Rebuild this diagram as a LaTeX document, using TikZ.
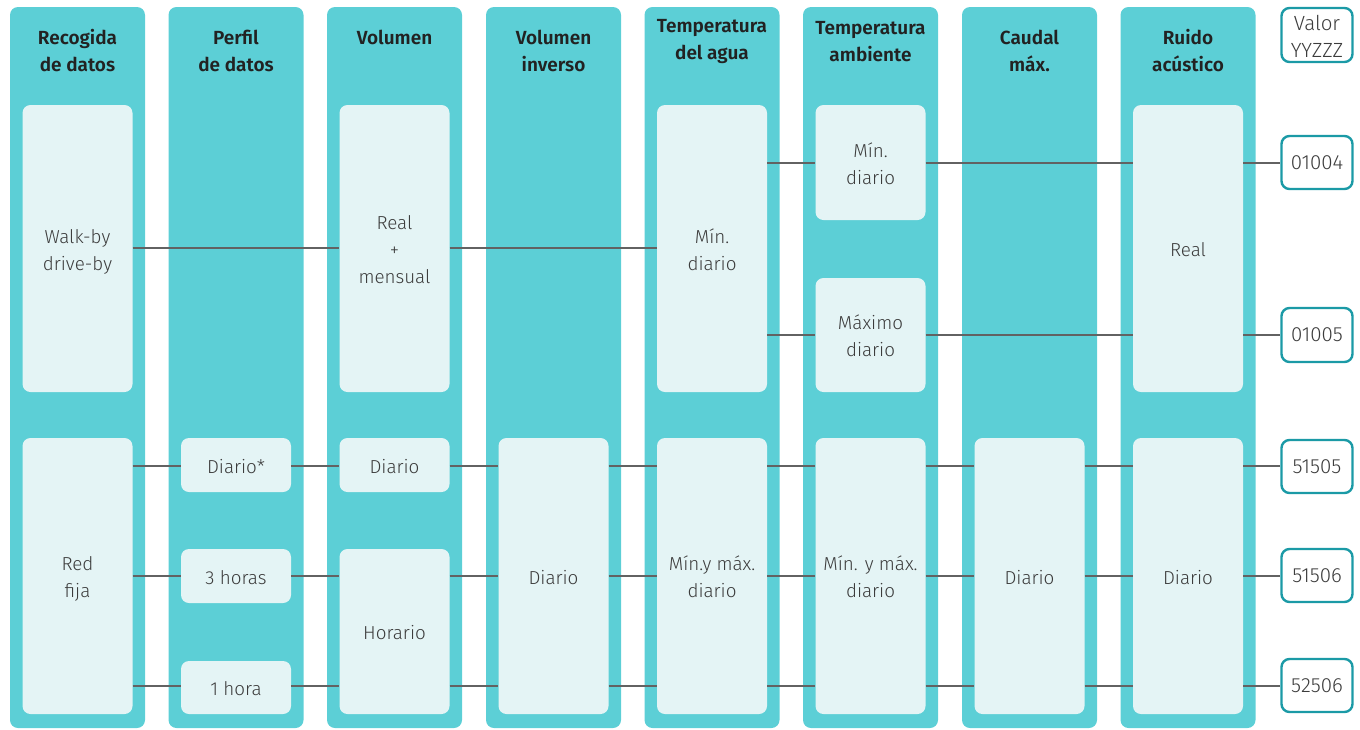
\documentclass[tikz,border=0pt]{standalone}
\usepackage{fontspec}
\setmainfont{Fira Sans}[UprightFont={* Light}, BoldFont={* SemiBold}]
\definecolor{tealc}{HTML}{5CCFD6}
\definecolor{pale}{HTML}{E4F4F5}
\definecolor{valb}{HTML}{1B9AA6}
\definecolor{linec}{HTML}{626262}
\definecolor{txtc}{HTML}{3C3C3C}
\definecolor{hdrc}{HTML}{222222}
\tikzset{
  colbg/.style={fill=tealc, draw=none, rounded corners=8pt, minimum width=135pt, minimum height=721pt, inner sep=0pt},
  hdr/.style={font=\bfseries\fontsize{19}{27}\selectfont, text=hdrc, align=center, inner sep=0pt},
  inbox/.style={fill=pale, draw=none, rounded corners=8pt, minimum width=110pt, inner sep=0pt, align=center, text=txtc, font=\fontsize{18.8}{27}\selectfont},
  oneline/.style={text height=16pt, text depth=0pt},
  twoline/.style={text height=43pt, text depth=0pt},
  threeline/.style={text height=69pt, text depth=0pt},
  valbox/.style={fill=white, draw=valb, line width=2.4pt, rounded corners=8pt, minimum width=71pt, inner sep=0pt, align=center, text=txtc, font=\fontsize{20.5}{27}\selectfont},
  conn/.style={draw=linec, line width=2pt}
}
\begin{document}
\begin{tikzpicture}[x=1pt,y=-1pt]
\useasboundingbox (0,0) rectangle (1360,729);
% columns
\foreach \cx [count=\i] in {77.5,236,394.5,553.5,712,870.5,1029.5,1188}{
  \node[colbg] (col\i) at (\cx,367.5) {};
}
% headers
\node[hdr] (h1) at (77.5,50.5) {Recogida\\de datos};
\node[hdr] (h2) at (236,50.5) {Perfil\\de datos};
\node[hdr] (h3) at (394.5,37) {Volumen};
\node[hdr] (h4) at (553.5,50.5) {Volumen\\inverso};
\node[hdr] (h5) at (712,41.5) {Temperatura\\del agua};
\node[hdr] (h6) at (870.5,41.5) {Temperatura\\ambiente};
\node[hdr] (h7) at (1029.5,50.5) {Caudal\\máx.};
\node[hdr] (h8) at (1188,50.5) {Ruido\\acústico};
% column 1
\node[inbox, twoline, minimum height=287pt] (c1a) at (77.5,248.5) {Walk-by\\drive-by};
\node[inbox, twoline, minimum height=276pt] (c1b) at (77.5,576) {Red\\fija};
% column 2
\node[inbox, oneline, minimum height=54pt] (c2a) at (236,465) {Diario*};
\node[inbox, oneline, minimum height=54pt] (c2b) at (236,576) {3 horas};
\node[inbox, oneline, minimum height=53pt] (c2c) at (236,687.5) {1 hora};
% column 3
\node[inbox, threeline, minimum height=287pt] (c3a) at (394.5,248.5) {Real\\+\\mensual};
\node[inbox, oneline, minimum height=54pt] (c3b) at (394.5,465) {Diario};
\node[inbox, oneline, minimum height=165pt] (c3c) at (394.5,631.5) {Horario};
% column 4
\node[inbox, oneline, minimum height=276pt] (c4a) at (553.5,576) {Diario};
% column 5
\node[inbox, twoline, minimum height=287pt] (c5a) at (712,248.5) {Mín.\\diario};
\node[inbox, twoline, minimum height=276pt] (c5b) at (712,576) {Mín.y máx.\\diario};
% column 6
\node[inbox, twoline, minimum height=115pt] (c6a) at (870.5,162.5) {Mín.\\diario};
\node[inbox, twoline, minimum height=114pt] (c6b) at (870.5,335) {Máximo\\diario};
\node[inbox, twoline, minimum height=276pt] (c6c) at (870.5,576) {Mín. y máx.\\diario};
% column 7
\node[inbox, oneline, minimum height=276pt] (c7a) at (1029.5,576) {Diario};
% column 8
\node[inbox, oneline, minimum height=287pt] (c8a) at (1188,248.5) {Real};
\node[inbox, oneline, minimum height=276pt] (c8b) at (1188,576) {Diario};
% value boxes
\node[valbox, text height=44pt, text depth=0pt, minimum height=54pt] (v0) at (1317,35) {Valor\\YYZZZ};
\node[valbox, minimum height=53pt] (v1) at (1317,162.5) {01004};
\node[valbox, minimum height=54pt] (v2) at (1317,335) {01005};
\node[valbox, minimum height=53pt] (v3) at (1317,466.5) {51505};
\node[valbox, minimum height=53pt] (v4) at (1317,575.5) {51506};
\node[valbox, minimum height=53pt] (v5) at (1317,685.5) {52506};
% coordinates of rows
\coordinate (rA) at (0,248);
\coordinate (rB) at (0,163);
\coordinate (rC) at (0,335);
\coordinate (rD) at (0,466);
\coordinate (rE) at (0,576);
\coordinate (rF) at (0,686);
% row A (walk-by)
\draw[conn] (rA -| c1a.east) -- (rA -| c3a.west);
\draw[conn] (rA -| c3a.east) -- (rA -| c5a.west);
% row B
\draw[conn] (rB -| c5a.east) -- (rB -| c6a.west);
\draw[conn] (rB -| c6a.east) -- (rB -| c8a.west);
\draw[conn] (rB -| c8a.east) -- (rB -| v1.west);
% row C
\draw[conn] (rC -| c5a.east) -- (rC -| c6b.west);
\draw[conn] (rC -| c6b.east) -- (rC -| c8a.west);
\draw[conn] (rC -| c8a.east) -- (rC -| v2.west);
% row D
\draw[conn] (rD -| c1b.east) -- (rD -| c2a.west);
\draw[conn] (rD -| c2a.east) -- (rD -| c3b.west);
\draw[conn] (rD -| c3b.east) -- (rD -| c4a.west);
\draw[conn] (rD -| c4a.east) -- (rD -| c5b.west);
\draw[conn] (rD -| c5b.east) -- (rD -| c6c.west);
\draw[conn] (rD -| c6c.east) -- (rD -| c7a.west);
\draw[conn] (rD -| c7a.east) -- (rD -| c8b.west);
\draw[conn] (rD -| c8b.east) -- (rD -| v3.west);
% row E
\draw[conn] (rE -| c1b.east) -- (rE -| c2b.west);
\draw[conn] (rE -| c2b.east) -- (rE -| c3c.west);
\draw[conn] (rE -| c3c.east) -- (rE -| c4a.west);
\draw[conn] (rE -| c4a.east) -- (rE -| c5b.west);
\draw[conn] (rE -| c5b.east) -- (rE -| c6c.west);
\draw[conn] (rE -| c6c.east) -- (rE -| c7a.west);
\draw[conn] (rE -| c7a.east) -- (rE -| c8b.west);
\draw[conn] (rE -| c8b.east) -- (rE -| v4.west);
% row F
\draw[conn] (rF -| c1b.east) -- (rF -| c2c.west);
\draw[conn] (rF -| c2c.east) -- (rF -| c3c.west);
\draw[conn] (rF -| c3c.east) -- (rF -| c4a.west);
\draw[conn] (rF -| c4a.east) -- (rF -| c5b.west);
\draw[conn] (rF -| c5b.east) -- (rF -| c6c.west);
\draw[conn] (rF -| c6c.east) -- (rF -| c7a.west);
\draw[conn] (rF -| c7a.east) -- (rF -| c8b.west);
\draw[conn] (rF -| c8b.east) -- (rF -| v5.west);
\end{tikzpicture}
\end{document}
